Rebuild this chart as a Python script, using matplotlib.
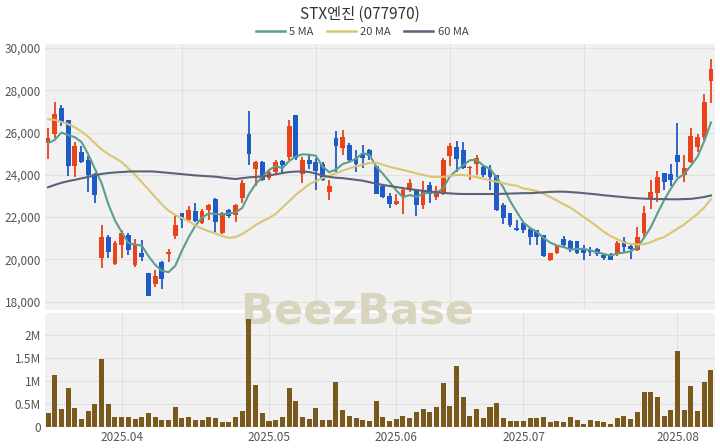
import numpy as np
import pandas as pd
import matplotlib
matplotlib.use("Agg")
import matplotlib.pyplot as plt
from matplotlib.lines import Line2D
from matplotlib.ticker import FuncFormatter

title = "STX엔진 (077970)"
ma_labels = ["5 MA", "20 MA", "60 MA"]

# 거래일 (휴장일 제외)
holidays = ["2025-05-01", "2025-05-05", "2025-05-06", "2025-06-03", "2025-06-06"]
dates = pd.bdate_range("2025-03-17", "2025-08-08")
dates = dates[~dates.isin(pd.to_datetime(holidays))]

opens = [25500, 25950, 27150, 26600, 24400, 25100, 24700, 24050, 20050, 21050,
         19800, 20700, 21150, 19750, 20300, 19350, 18850, 19850, 20250, 21100,
         22200, 21850, 22300, 21700, 22350, 22850, 21250, 22350, 22100, 22900,
         25950, 24250, 24600, 23850, 24150, 24650, 24850, 26850, 24050, 24700,
         24600, 24500, 23200, 25750, 25250, 25400, 24800, 25000, 25150, 24400,
         23450, 23000, 22600, 22950, 23300, 23300, 22550, 23500, 22950, 23100,
         24900, 25300, 25150, 24300, 24500, 24350, 24250, 24000, 22550, 22200,
         21500, 21700, 21450, 21400, 21150, 19950, 20300, 20950, 20850, 20850,
         20500, 20450, 20500, 20200, 20250, 20250, 20850, 20650, 20450, 21250,
         22900, 23150, 24100, 24050, 24950, 24000, 24600, 25300, 25800, 28450]
highs = [26200, 27450, 27300, 26600, 25550, 25350, 24900, 24100, 21600, 21150,
         20850, 21400, 21250, 20950, 20900, 19350, 19500, 19900, 20500, 22150,
         22200, 22500, 22650, 22400, 22600, 22900, 22250, 22400, 22600, 23750,
         27000, 24650, 24650, 24250, 24700, 24700, 26600, 26850, 24850, 24950,
         24800, 24600, 23750, 26050, 26100, 25500, 25150, 25400, 25200, 24400,
         23450, 23150, 23100, 23350, 23800, 23350, 23700, 23650, 23450, 24800,
         25500, 25600, 25550, 24400, 24950, 24400, 24450, 24000, 22650, 22200,
         21850, 21800, 21550, 21400, 21150, 20300, 20700, 21100, 20900, 20850,
         20700, 20600, 20550, 20300, 20300, 20850, 21050, 20700, 21550, 22500,
         23750, 24200, 24100, 24500, 26450, 24950, 26200, 25950, 27800, 29500]
lows = [24750, 25750, 26300, 23950, 23900, 24550, 23200, 22650, 19600, 20050,
        19750, 20050, 20200, 19650, 19900, 18250, 18700, 18600, 19850, 20950,
        21500, 21800, 21750, 21650, 21850, 21300, 21200, 21950, 21750, 22650,
        24450, 23450, 23700, 23750, 24050, 24050, 24700, 24700, 23600, 24250,
        23300, 23700, 22800, 24150, 24950, 24650, 24150, 24300, 24700, 23100,
        22900, 22450, 22550, 22150, 23200, 22050, 22400, 22650, 22800, 23050,
        24400, 24150, 24250, 23750, 24000, 23900, 23300, 22300, 21650, 21550,
        21350, 21250, 20700, 20700, 20100, 19900, 20250, 20600, 20350, 20250,
        19950, 20150, 20150, 19950, 19950, 20150, 20300, 20000, 20400, 21000,
        22400, 22700, 23300, 23450, 23900, 23650, 24550, 25100, 25650, 27400]
closes = [25750, 26900, 26500, 24400, 25350, 24600, 24000, 23050, 21050, 20350,
          20750, 21250, 20450, 20700, 20100, 18250, 19200, 19050, 20350, 21600,
          21850, 22350, 21800, 22300, 22550, 21750, 22200, 22050, 22550, 23600,
          25000, 24600, 23750, 24150, 24600, 24450, 26300, 24800, 24700, 24500,
          24200, 23750, 23450, 25350, 25800, 24700, 24500, 24800, 24900, 23100,
          22950, 22600, 22750, 23300, 23600, 22550, 23300, 23100, 23150, 24700,
          25350, 24750, 24300, 24350, 24800, 24000, 23900, 22350, 21950, 21600,
          21400, 21400, 21050, 21050, 20150, 20300, 20700, 20700, 20450, 20300,
          20300, 20350, 20250, 20050, 19950, 20750, 20600, 20500, 21050, 22200,
          23200, 23900, 23650, 23750, 24600, 24300, 25850, 25800, 27450, 29000]
volumes = [0.31, 1.13, 0.385, 0.85, 0.41, 0.18, 0.35, 0.49, 1.49, 0.49,
           0.225, 0.225, 0.225, 0.17, 0.21, 0.305, 0.21, 0.15, 0.16, 0.44,
           0.195, 0.22, 0.145, 0.145, 0.21, 0.19, 0.11, 0.10, 0.21, 0.34,
           2.35, 0.91, 0.31, 0.13, 0.145, 0.21, 0.84, 0.56, 0.21, 0.175,
           0.41, 0.145, 0.145, 0.97, 0.36, 0.24, 0.19, 0.145, 0.13, 0.56,
           0.22, 0.13, 0.175, 0.23, 0.195, 0.33, 0.40, 0.32, 0.44, 0.95,
           0.465, 1.32, 0.66, 0.25, 0.40, 0.195, 0.44, 0.52, 0.195, 0.13,
           0.13, 0.13, 0.20, 0.20, 0.22, 0.11, 0.13, 0.10, 0.21, 0.16,
           0.06, 0.16, 0.13, 0.10, 0.065, 0.20, 0.23, 0.175, 0.33, 0.77,
           0.77, 0.65, 0.23, 0.37, 1.65, 0.37, 0.89, 0.35, 0.97, 1.23]  # 백만주

ma5 = [25500, 25650, 26000, 25880, 25780, 25550, 24970, 24280, 23610, 22610,
       21840, 21290, 20770, 20700, 20650, 20150, 19740, 19460, 19390, 19690,
       20410, 21040, 21590, 21980, 22170, 22150, 22120, 22170, 22220, 22430,
       23080, 23560, 23900, 24220, 24420, 24310, 24650, 24860, 24970, 24950,
       24900, 24390, 24120, 24250, 24510, 24610, 24760, 25030, 24940, 24400,
       24050, 23670, 23260, 22940, 23040, 22960, 23100, 23170, 23140, 23360,
       23920, 24210, 24450, 24690, 24710, 24440, 24270, 23880, 23400, 22760,
       22240, 21740, 21480, 21300, 21010, 20790, 20650, 20580, 20460, 20490,
       20490, 20420, 20330, 20250, 20180, 20270, 20320, 20370, 20570, 21020,
       21510, 22170, 22800, 23340, 23820, 24040, 24430, 24860, 25600, 26480]
ma20 = [26630, 26600, 26500, 26400, 26250, 26050, 25800, 25500, 25200, 24980,
        24800, 24600, 24300, 24000, 23650, 23300, 22950, 22600, 22300, 22100,
        21950, 21800, 21600, 21450, 21330, 21230, 21100, 21010, 21050, 21200,
        21400, 21620, 21800, 21950, 22150, 22450, 22750, 23050, 23300, 23550,
        23700, 23850, 23950, 24070, 24200, 24300, 24400, 24480, 24560, 24570,
        24480, 24380, 24300, 24230, 24150, 24070, 24000, 23920, 23900, 23900,
        23950, 23990, 23990, 23950, 23890, 23820, 23730, 23680, 23600, 23530,
        23480, 23350, 23300, 23230, 23100, 22950, 22780, 22600, 22450, 22230,
        22000, 21780, 21550, 21300, 21100, 20950, 20800, 20730, 20700, 20720,
        20800, 20950, 21050, 21250, 21450, 21650, 21900, 22150, 22450, 22850]
ma60 = [23410, 23520, 23620, 23700, 23760, 23830, 23900, 23980, 24040, 24080,
        24110, 24130, 24150, 24160, 24160, 24160, 24150, 24120, 24090, 24060,
        24030, 24000, 23970, 23950, 23930, 23910, 23870, 23830, 23800, 23840,
        23880, 23900, 23920, 23970, 24020, 24080, 24130, 24150, 24160, 24130,
        24060, 23960, 23900, 23860, 23840, 23800, 23760, 23720, 23650, 23580,
        23520, 23470, 23420, 23370, 23320, 23280, 23240, 23210, 23180, 23140,
        23120, 23100, 23090, 23090, 23090, 23090, 23090, 23090, 23100, 23110,
        23120, 23130, 23130, 23150, 23170, 23190, 23200, 23200, 23180, 23160,
        23130, 23100, 23070, 23030, 23000, 22970, 22940, 22910, 22890, 22870,
        22860, 22850, 22850, 22840, 22840, 22850, 22860, 22900, 22950, 23020]

UP = "#e8431a"
DOWN = "#1f5bc6"
VOL = "#7a5a1c"
MA_COLORS = ["#5c9e8c", "#d9c672", "#5a6378"]
BG = "#f1f1f1"
GRID = "#e1e1e1"
TXT = "#555555"

plt.rcParams["font.family"] = ["Noto Sans CJK KR", "DejaVu Sans"]

fig = plt.figure(figsize=(7.2, 4.48), dpi=100)
ax = fig.add_axes([45 / 720, 1 - 310 / 448, 670 / 720, 266 / 448])
axv = fig.add_axes([45 / 720, 1 - 427 / 448, 670 / 720, 114 / 448])

x = np.arange(len(closes))
o = np.array(opens); c = np.array(closes)
h = np.array(highs); l = np.array(lows)
up = c >= o
colors = np.where(up, UP, DOWN)

# 캔들
ax.vlines(x, l, h, colors=colors, linewidth=1.3, zorder=3)
ax.bar(x, np.abs(c - o), bottom=np.minimum(o, c), width=0.72, color=colors, zorder=3)

for vals, col in zip([ma5, ma20, ma60], MA_COLORS):
    ax.plot(x, vals, color=col, linewidth=1.5, zorder=4)

xlim = (-0.45, len(x) - 0.4)
ax.set_xlim(*xlim)
ax.set_ylim(17600, 30190)
ax.set_yticks(range(18000, 30001, 2000))
ax.yaxis.set_major_formatter(FuncFormatter(lambda v, p: f"{int(v):,}"))
ax.set_xticks([20, 40, 60, 80])
ax.set_xticklabels([])

# 거래량
axv.bar(x, np.array(volumes) * 1e6, width=0.75, color=VOL, zorder=3)
axv.set_xlim(*xlim)
axv.set_ylim(0, 2.48e6)
axv.set_yticks([0, 0.5e6, 1e6, 1.5e6, 2e6])
axv.set_yticklabels(["0", "0.5M", "1M", "1.5M", "2M"])

month_idx = [np.where(dates.to_period("M") == m)[0][0] for m in dates.to_period("M").unique()[1:]]
axv.set_xticks(month_idx)
axv.set_xticklabels([dates[i].strftime("%Y.%m") for i in month_idx])

for a in (ax, axv):
    a.set_facecolor(BG)
    a.grid(True, color=GRID, linewidth=0.8, zorder=0)
    a.set_axisbelow(True)
    for s in a.spines.values():
        s.set_visible(False)
    a.tick_params(length=0, labelsize=8.5, colors=TXT, pad=3)

# 워터마크
axv.text(0.497, 1 - 311 / 448, "BeezBase", transform=fig.transFigure, ha="center", va="center",
         fontsize=31, fontweight="bold", color="#d9d4bd", family="DejaVu Sans",
         zorder=1, clip_on=False)

fig.text(0.5, 1 - 14 / 448, title, ha="center", va="center", fontsize=11, color="#333333")

handles = [Line2D([0], [0], color=col, linewidth=1.8) for col in MA_COLORS]
fig.legend(handles, ma_labels, loc="center", bbox_to_anchor=(0.503, 1 - 32 / 448), ncol=3,
           frameon=False, fontsize=8, handlelength=2.6, handletextpad=0.4, columnspacing=1.2,
           labelcolor="#444444")

fig.savefig("out.png", dpi=100)
